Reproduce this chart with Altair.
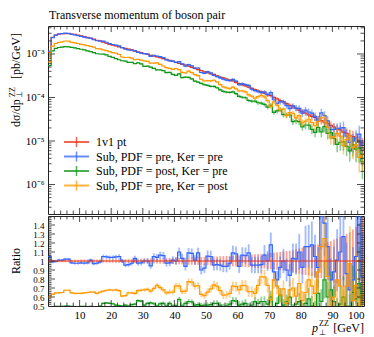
import altair as alt
import pandas as pd

FONT = "Liberation Serif"
INK = "#222222"

title_text = "Transverse momentum of boson pair"
series_names = ["1v1 pt", "Sub, PDF = pre, Ker = pre",
                "Sub, PDF = post, Ker = pre", "Sub, PDF = pre, Ker = post"]
series_colors = ["#EE3311", "#3366FF", "#109618", "#FF9900"]

# 1 GeV bins: lower edges 0..99
bin_lo = list(range(100))

# 1v1 pt: dsigma/dpT [pb/GeV]
red_vals = [
    1.10e-3, 2.40e-3, 2.72e-3, 2.85e-3, 2.92e-3, 2.95e-3, 2.93e-3, 2.88e-3, 2.82e-3, 2.72e-3,
    2.60e-3, 2.51e-3, 2.40e-3, 2.29e-3, 2.19e-3, 2.07e-3, 2.00e-3, 1.88e-3, 1.78e-3, 1.66e-3,
    1.59e-3, 1.53e-3, 1.46e-3, 1.40e-3, 1.35e-3, 1.29e-3, 1.25e-3, 1.16e-3, 1.12e-3, 1.07e-3,
    1.02e-3, 9.9e-4, 9.3e-4, 8.9e-4, 8.6e-4, 8.2e-4, 7.8e-4, 7.5e-4, 7.1e-4, 6.8e-4,
    6.4e-4, 6.1e-4, 5.75e-4, 5.56e-4, 5.25e-4, 4.9e-4, 4.68e-4, 4.37e-4, 4.17e-4, 3.89e-4,
    3.72e-4, 3.51e-4, 3.39e-4, 3.16e-4, 2.95e-4, 2.82e-4, 2.66e-4, 2.51e-4, 2.40e-4, 2.21e-4,
    2.09e-4, 1.95e-4, 1.86e-4, 1.74e-4, 1.62e-4, 1.51e-4, 1.43e-4, 1.35e-4, 1.26e-4, 1.16e-4,
    1.10e-4, 1.01e-4, 9.3e-5, 8.5e-5, 7.9e-5, 7.2e-5, 6.6e-5, 6.2e-5, 5.6e-5, 5.1e-5,
    4.7e-5, 4.4e-5, 4.0e-5, 3.7e-5, 3.5e-5, 3.2e-5, 2.95e-5, 2.7e-5, 2.5e-5, 2.3e-5,
    2.1e-5, 1.9e-5, 1.8e-5, 1.6e-5, 1.5e-5, 1.35e-5, 1.26e-5, 1.12e-5, 9.3e-6, 7.9e-6]

# ratios to 1v1 pt
blue_ratio = [
    1.05, 0.99, 0.995, 1.01, 1.01, 1.02, 1.02, 0.98, 0.975, 0.975,
    0.98, 0.975, 0.98, 1.01, 0.97, 0.975, 0.99, 1.05, 1.045, 1.04,
    1.04, 1.045, 1.05, 1.00, 0.955, 0.96, 0.975, 1.03, 0.975, 0.98,
    1.00, 1.00, 0.945, 1.05, 1.04, 1.065, 1.06, 0.975, 0.98, 1.01,
    1.00, 1.10, 1.03, 0.94, 1.09, 1.085, 1.01, 1.09, 0.90, 0.92,
    1.055, 1.05, 0.955, 0.96, 0.955, 0.94, 0.94, 0.975, 1.09, 1.08,
    0.94, 1.065, 1.06, 1.09, 0.955, 0.955, 0.955, 0.96, 1.065, 1.00,
    1.18, 0.88, 0.79, 0.93, 1.00, 0.90, 0.84, 1.03, 1.02, 1.10,
    0.93, 1.16, 1.16, 1.18, 1.05, 0.93, 1.50, 1.42, 1.16, 0.79,
    0.88, 1.01, 1.10, 1.27, 0.86, 0.68, 0.79, 1.05, 1.55, 0.82]

green_ratio = [
    0.49, 0.49, 0.495, 0.495, 0.495, 0.50, 0.50, 0.495, 0.49, 0.49,
    0.495, 0.495, 0.49, 0.495, 0.49, 0.49, 0.50, 0.53, 0.535, 0.53,
    0.525, 0.51, 0.505, 0.50, 0.51, 0.50, 0.515, 0.52, 0.56, 0.555,
    0.51, 0.53, 0.535, 0.525, 0.50, 0.525, 0.53, 0.50, 0.53, 0.50,
    0.505, 0.575, 0.50, 0.53, 0.55, 0.545, 0.51, 0.515, 0.505, 0.51,
    0.51, 0.515, 0.53, 0.53, 0.51, 0.49, 0.50, 0.52, 0.56, 0.555,
    0.51, 0.52, 0.53, 0.49, 0.51, 0.548, 0.53, 0.548, 0.55, 0.52,
    0.60, 0.45, 0.53, 0.62, 0.51, 0.55, 0.60, 0.45, 0.52, 0.548,
    0.45, 0.53, 0.58, 0.50, 0.45, 0.64, 0.55, 0.79, 0.60, 0.68,
    0.55, 0.44, 0.52, 0.60, 0.50, 0.44, 0.65, 0.58, 0.75, 0.42]

orange_ratio = [
    0.60, 0.63, 0.645, 0.645, 0.65, 0.675, 0.675, 0.645, 0.64, 0.64,
    0.64, 0.645, 0.65, 0.655, 0.655, 0.64, 0.655, 0.665, 0.675, 0.68,
    0.675, 0.68, 0.67, 0.61, 0.615, 0.645, 0.645, 0.64, 0.67, 0.675,
    0.68, 0.685, 0.665, 0.695, 0.73, 0.705, 0.68, 0.645, 0.655, 0.655,
    0.725, 0.72, 0.66, 0.665, 0.77, 0.765, 0.72, 0.725, 0.63, 0.615,
    0.655, 0.69, 0.735, 0.72, 0.67, 0.62, 0.625, 0.64, 0.72, 0.715,
    0.68, 0.73, 0.725, 0.66, 0.66, 0.64, 0.73, 0.825, 0.82, 0.73,
    0.567, 0.79, 0.72, 0.62, 0.69, 0.53, 0.68, 0.70, 0.61, 0.75,
    0.56, 0.65, 0.79, 0.72, 0.64, 0.88, 1.16, 1.25, 0.83, 0.51,
    0.60, 0.79, 0.72, 0.49, 0.72, 0.97, 0.56, 0.73, 0.45, 0.62]

# relative statistical errors
red_relerr = [
    0.020, 0.015, 0.015, 0.015, 0.015, 0.015, 0.015, 0.015, 0.015, 0.015,
    0.016, 0.016, 0.016, 0.017, 0.017, 0.017, 0.018, 0.018, 0.018, 0.019,
    0.019, 0.020, 0.020, 0.021, 0.021, 0.022, 0.022, 0.023, 0.024, 0.025,
    0.025, 0.026, 0.027, 0.028, 0.029, 0.030, 0.031, 0.032, 0.033, 0.034,
    0.035, 0.036, 0.037, 0.038, 0.040, 0.041, 0.042, 0.043, 0.045, 0.046,
    0.047, 0.048, 0.050, 0.051, 0.053, 0.054, 0.056, 0.057, 0.059, 0.061,
    0.063, 0.065, 0.067, 0.069, 0.071, 0.074, 0.077, 0.080, 0.083, 0.086,
    0.090, 0.094, 0.098, 0.100, 0.105, 0.110, 0.115, 0.120, 0.130, 0.140,
    0.150, 0.155, 0.160, 0.170, 0.180, 0.185, 0.190, 0.200, 0.210, 0.220,
    0.240, 0.250, 0.270, 0.280, 0.300, 0.320, 0.350, 0.380, 0.420, 0.480]

sub_relerr = [
    0.025, 0.015, 0.014, 0.014, 0.014, 0.014, 0.014, 0.015, 0.015, 0.015,
    0.016, 0.016, 0.017, 0.017, 0.018, 0.018, 0.019, 0.020, 0.020, 0.021,
    0.022, 0.022, 0.023, 0.024, 0.025, 0.026, 0.027, 0.027, 0.028, 0.029,
    0.030, 0.031, 0.033, 0.034, 0.035, 0.036, 0.038, 0.039, 0.040, 0.042,
    0.043, 0.044, 0.046, 0.047, 0.049, 0.050, 0.052, 0.053, 0.055, 0.057,
    0.058, 0.060, 0.062, 0.064, 0.066, 0.068, 0.070, 0.072, 0.074, 0.076,
    0.079, 0.082, 0.085, 0.088, 0.091, 0.094, 0.097, 0.100, 0.105, 0.110,
    0.115, 0.120, 0.125, 0.130, 0.135, 0.140, 0.150, 0.160, 0.170, 0.180,
    0.190, 0.200, 0.210, 0.220, 0.230, 0.240, 0.250, 0.260, 0.280, 0.300,
    0.320, 0.340, 0.360, 0.380, 0.400, 0.430, 0.460, 0.500, 0.550, 0.600]

# axis ticks / labels
x_labels = [10, 20, 30, 40, 50, 60, 70, 80, 90, 100]
x_major = [10, 20, 30, 40, 50, 60, 70, 80, 90]
x_minor = [t for t in range(2, 100, 2) if t % 10 != 0]
main_y_major = [1e-3, 1e-4, 1e-5, 1e-6]
Y_MAIN_DOMAIN = [2.1e-7, 4.4e-3]
main_y_minor = [m * 10.0 ** e for e in range(-7, -2) for m in range(2, 10)
                if Y_MAIN_DOMAIN[0] <= m * 10.0 ** e <= Y_MAIN_DOMAIN[1]]
ratio_y_labels = [0.5, 0.6, 0.7, 0.8, 0.9, 1.0, 1.1, 1.2, 1.3, 1.4]
ratio_y_major = [0.6, 0.7, 0.8, 0.9, 1.0, 1.1, 1.2, 1.3, 1.4]
ratio_y_minor = [round(0.5 + 0.02 * k, 2) for k in range(1, 50) if k % 5 != 0]

W, HM, HR = 316, 188, 90
MAJ, MIN = 6, 3.5

xs = alt.Scale(domain=[0, 100], nice=False, zero=False)
ys_main = alt.Scale(type="log", domain=Y_MAIN_DOMAIN, nice=False)
ys_ratio = alt.Scale(domain=[0.5, 1.5], nice=False, zero=False)

main_yaxis = alt.Axis(values=main_y_major, ticks=False, tickSize=0, domain=False, grid=False,
                      labelPadding=4, labelFontSize=11, labelFont=FONT, labelColor="#000",
                      labelOverlap=False,
                      labelExpr="datum.value > 0.0005 ? '10⁻³' : datum.value > 0.00005 ? '10⁻⁴' : datum.value > 0.000005 ? '10⁻⁵' : '10⁻⁶'")
ratio_yaxis = alt.Axis(values=ratio_y_labels, format="~g", ticks=False, tickSize=0, domain=False,
                       grid=False, labelPadding=4, labelFontSize=9, labelFont=FONT, labelColor="#000",
                       labelOverlap=False, labelFlush=False)
ratio_xaxis = alt.Axis(values=x_labels, format="d", ticks=False, tickSize=0, domain=False, grid=False,
                       labelPadding=3, labelFontSize=11, labelFont=FONT, labelColor="#000",
                       labelFlush=True, labelOverlap=False)

ratios = [[1.0] * 100, blue_ratio, green_ratio, orange_ratio]
errs = [red_relerr, sub_relerr, sub_relerr, sub_relerr]


def series_frames(k):
    rows, steps = [], []
    for i in bin_lo:
        r = ratios[k][i]
        v = red_vals[i] * r
        e = errs[k][i]
        rows.append(dict(ctr=i + 0.5, v=v, elo=v * (1 - e), ehi=v * (1 + e),
                         r=r, rlo=r * (1 - e), rhi=r * (1 + e)))
        steps.append(dict(x=i, v=v, r=r))
    steps.append(dict(x=100, v=steps[-1]["v"], r=steps[-1]["r"]))
    return pd.DataFrame(rows), pd.DataFrame(steps)


def tick_layers(yscale, yaxis, xaxis, h, ymaj, ymin):
    out = []
    for vals, L in [(x_major, MAJ), (x_minor, MIN)]:
        d = pd.DataFrame({"t": vals})
        X = alt.X("t:Q", scale=xs, axis=xaxis, title=None)
        out.append(alt.Chart(d).mark_rule(color=INK, strokeWidth=0.8).encode(
            x=X, y=alt.value(0), y2=alt.value(L)))
        out.append(alt.Chart(d).mark_rule(color=INK, strokeWidth=0.8).encode(
            x=X, y=alt.value(h), y2=alt.value(h - L)))
    for vals, L in [(ymaj, MAJ + 1), (ymin, MIN)]:
        d = pd.DataFrame({"t": vals})
        Y = alt.Y("t:Q", scale=yscale, axis=yaxis, title=None)
        out.append(alt.Chart(d).mark_rule(color=INK, strokeWidth=0.8).encode(
            y=Y, x=alt.value(0), x2=alt.value(L)))
        out.append(alt.Chart(d).mark_rule(color=INK, strokeWidth=0.8).encode(
            y=Y, x=alt.value(W), x2=alt.value(W - L)))
    return out


def text(label, x, y, size=12, align="left", baseline="alphabetic", angle=0, style="normal", color="#000"):
    return alt.Chart(pd.DataFrame({"label": [label]})).mark_text(
        font=FONT, fontSize=size, align=align, baseline=baseline, angle=angle,
        fontStyle=style, color=color).encode(text="label:N", x=alt.value(x), y=alt.value(y))


frames = [series_frames(k) for k in range(4)]

# ---------------- main panel ----------------
main_layers = []
for k in [0, 1, 2, 3]:
    pts, stp = frames[k]
    c = series_colors[k]
    main_layers.append(alt.Chart(pts).mark_rule(color=c, opacity=0.5, strokeWidth=1.5, clip=True).encode(
        x=alt.X("ctr:Q", scale=xs, axis=None, title=None),
        y=alt.Y("elo:Q", scale=ys_main, axis=main_yaxis, title=None), y2="ehi:Q"))
    main_layers.append(alt.Chart(stp).mark_line(color=c, strokeWidth=1.2, interpolate="step-after", clip=True).encode(
        x=alt.X("x:Q", scale=xs, axis=None, title=None),
        y=alt.Y("v:Q", scale=ys_main, axis=main_yaxis, title=None)))
main_layers += tick_layers(ys_main, main_yaxis, None, HM, main_y_major, main_y_minor)

legend_rows = [116, 130.5, 145, 159.5]
for k in [0, 1, 2, 3]:
    yk = legend_rows[k]
    c = series_colors[k]
    d = pd.DataFrame({"label": [series_names[k]]})
    main_layers.append(alt.Chart(d).mark_rule(color=c, strokeWidth=2, opacity=0.75).encode(
        x=alt.value(16), x2=alt.value(41), y=alt.value(yk)))
    main_layers.append(alt.Chart(d).mark_rule(color=c, strokeWidth=1.5, opacity=0.75).encode(
        x=alt.value(28.5), y=alt.value(yk - 5), y2=alt.value(yk + 5)))
    main_layers.append(text(series_names[k], 48, yk, size=12, baseline="middle"))

main_layers.append(text(title_text, 1, -7, size=12))
# y-axis title pieces (rotated)
main_layers.append(text("dσ/dp", -32, 101, size=12, align="left", baseline="middle", angle=270))
main_layers.append(text("⊥", -28, 72, size=8, align="left", baseline="middle", angle=270))
main_layers.append(text("ZZ", -35, 71, size=8, align="left", baseline="middle", angle=270))
main_layers.append(text("[pb/GeV]", -32, 53, size=12, align="left", baseline="middle", angle=270))

main = alt.layer(*main_layers).properties(width=W, height=HM)

# ---------------- ratio panel ----------------
ratio_layers = []
for k in [0, 1, 2, 3]:
    pts, stp = frames[k]
    c = series_colors[k]
    ratio_layers.append(alt.Chart(pts).mark_rule(color=c, opacity=0.45, strokeWidth=1.8, clip=True).encode(
        x=alt.X("ctr:Q", scale=xs, axis=ratio_xaxis, title=None),
        y=alt.Y("rlo:Q", scale=ys_ratio, axis=ratio_yaxis, title=None), y2="rhi:Q"))
for k in [1, 2, 3, 0]:
    pts, stp = frames[k]
    c = series_colors[k]
    ratio_layers.append(alt.Chart(stp).mark_line(color=c, strokeWidth=1.2, interpolate="step-after", clip=True).encode(
        x=alt.X("x:Q", scale=xs, axis=ratio_xaxis, title=None),
        y=alt.Y("r:Q", scale=ys_ratio, axis=ratio_yaxis, title=None)))
ratio_layers += tick_layers(ys_ratio, ratio_yaxis, ratio_xaxis, HR, ratio_y_major, ratio_y_minor)
ratio_layers.append(text("Ratio", -32, 45, size=12, align="center", baseline="middle", angle=270))
ratio_layers.append(text("p", 270, 116, size=12, align="right", style="italic"))
ratio_layers.append(text("ZZ", 271, 110, size=8, align="left"))
ratio_layers.append(text("⊥", 271, 119, size=8, align="left"))
ratio_layers.append(text("[GeV]", 316, 116, size=12, align="right"))

ratio = alt.layer(*ratio_layers).properties(width=W, height=HR)

chart = alt.vconcat(main, ratio, spacing=0).properties(
    padding={"left": 0, "top": 0, "right": 0, "bottom": 0}
).configure_view(stroke=INK, strokeWidth=1).configure_concat(spacing=0)

chart.save("out.html", embed_options={"renderer": "svg", "actions": False})
